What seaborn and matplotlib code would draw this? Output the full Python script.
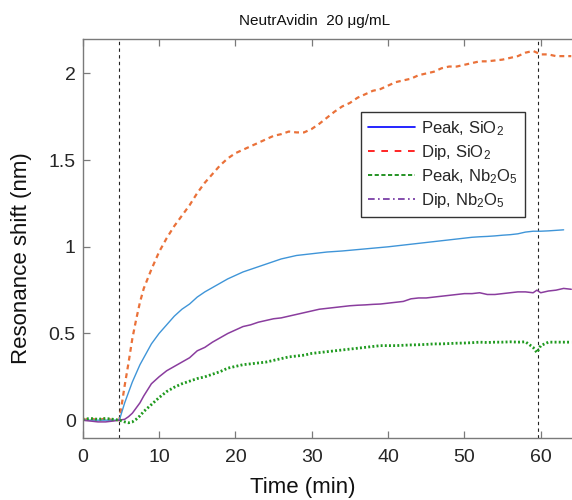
import numpy as np
import pandas as pd
import matplotlib
matplotlib.use("Agg")
import matplotlib.pyplot as plt
from matplotlib.lines import Line2D
import seaborn as sns

# ---------------- data ----------------
time_min = [0, 1, 2, 3, 4, 4.8, 5.5, 6, 6.5, 7, 7.5, 8,
            9, 10, 11, 12, 13, 14, 15, 16, 17, 18, 19, 20,
            21, 22, 23, 24, 25, 26, 27, 28, 29, 30,
            31, 32, 33, 34, 35, 36, 37, 38, 39, 40,
            41, 42, 43, 44, 45, 46, 47, 48, 49, 50,
            51, 52, 53, 54, 55, 56, 57, 58, 59, 59.5, 60, 61, 62, 63, 64]

peak_sio2 = [0.00, 0.00, 0.00, 0.00, 0.00, 0.00, 0.10, 0.16, 0.22, 0.27, 0.32, 0.36,
             0.44, 0.50, 0.55, 0.60, 0.64, 0.67, 0.71, 0.74, 0.765, 0.79, 0.815, 0.835,
             0.855, 0.87, 0.885, 0.90, 0.915, 0.93, 0.94, 0.95, 0.955, 0.96,
             0.965, 0.97, 0.973, 0.976, 0.98, 0.984, 0.988, 0.992, 0.996, 1.00,
             1.005, 1.01, 1.015, 1.02, 1.025, 1.03, 1.035, 1.04, 1.045, 1.05,
             1.055, 1.058, 1.06, 1.063, 1.067, 1.07, 1.075, 1.085, 1.09, 1.09, 1.09, 1.092, 1.095, 1.098, np.nan]

dip_sio2 = [0.00, 0.01, 0.00, 0.01, 0.00, 0.00, 0.20, 0.33, 0.47, 0.58, 0.68, 0.76,
            0.87, 0.97, 1.05, 1.12, 1.18, 1.24, 1.31, 1.37, 1.42, 1.47, 1.51, 1.54,
            1.56, 1.58, 1.60, 1.62, 1.64, 1.65, 1.665, 1.66, 1.66, 1.68,
            1.71, 1.745, 1.78, 1.81, 1.83, 1.86, 1.88, 1.90, 1.91, 1.93,
            1.95, 1.96, 1.97, 1.99, 2.00, 2.01, 2.03, 2.04, 2.04, 2.05,
            2.06, 2.07, 2.07, 2.075, 2.08, 2.09, 2.10, 2.12, 2.13, 2.12, 2.11, 2.11, 2.10, 2.10, 2.10]

peak_nb2o5 = [0.005, 0.01, 0.005, 0.01, 0.005, 0.00, -0.01, -0.015, -0.01, 0.005, 0.025, 0.05,
              0.09, 0.13, 0.165, 0.19, 0.21, 0.225, 0.24, 0.25, 0.265, 0.28, 0.30, 0.31,
              0.32, 0.325, 0.33, 0.335, 0.345, 0.355, 0.365, 0.37, 0.375, 0.385,
              0.39, 0.395, 0.40, 0.405, 0.41, 0.415, 0.42, 0.425, 0.43, 0.43,
              0.43, 0.432, 0.434, 0.435, 0.437, 0.44, 0.44, 0.442, 0.444, 0.445,
              0.447, 0.45, 0.448, 0.45, 0.45, 0.452, 0.45, 0.452, 0.42, 0.39, 0.43, 0.45, 0.45, 0.45, 0.45]

dip_nb2o5 = [0.00, -0.005, -0.01, -0.01, -0.005, 0.00, 0.005, 0.02, 0.04, 0.07, 0.10, 0.14,
             0.21, 0.25, 0.285, 0.31, 0.335, 0.36, 0.40, 0.42, 0.45, 0.475, 0.50, 0.52,
             0.54, 0.55, 0.565, 0.575, 0.585, 0.59, 0.60, 0.61, 0.62, 0.63,
             0.64, 0.645, 0.65, 0.655, 0.66, 0.663, 0.665, 0.668, 0.67, 0.675,
             0.68, 0.685, 0.70, 0.705, 0.705, 0.71, 0.715, 0.72, 0.725, 0.73,
             0.73, 0.735, 0.725, 0.725, 0.73, 0.735, 0.74, 0.74, 0.735, 0.75, 0.735, 0.745, 0.75, 0.76, 0.755]

injection_times = [4.8, 59.6]

legend_labels = ["Peak, SiO$_2$", "Dip, SiO$_2$", "Peak, Nb$_2$O$_5$", "Dip, Nb$_2$O$_5$"]
x_ticks = [0, 10, 20, 30, 40, 50, 60]
y_ticks = [0, 0.5, 1, 1.5, 2]
y_tick_labels = ["0", "0.5", "1", "1.5", "2"]

df = pd.DataFrame({
    "t": time_min,
    "peak_sio2": peak_sio2,
    "dip_sio2": dip_sio2,
    "peak_nb2o5": peak_nb2o5,
    "dip_nb2o5": dip_nb2o5,
})

# ---------------- style ----------------
sns.set_style("ticks")
plt.rcParams["font.family"] = ["Liberation Sans", "DejaVu Sans"]
plt.rcParams["mathtext.default"] = "regular"

fig = plt.figure(figsize=(5.72, 5.0), dpi=100)
ax = fig.add_axes([82.7 / 572, 62.5 / 500, 496.2 / 572, 398.7 / 500])

sns.lineplot(data=df, x="t", y="dip_sio2", ax=ax, color="#ea7139",
             linewidth=1.6, linestyle=(0, (2.2, 1.8)))
sns.lineplot(data=df, x="t", y="peak_sio2", ax=ax, color="#3f95d8", linewidth=1.0)
sns.lineplot(data=df, x="t", y="dip_nb2o5", ax=ax, color="#8a3d9e", linewidth=1.1)
sns.lineplot(data=df, x="t", y="peak_nb2o5", ax=ax, color="#1f9a1f",
             linewidth=2.0, linestyle=(0, (0.7, 0.8)))

for xv in injection_times:
    ax.axvline(xv, color="#222222", linewidth=0.8, linestyle=(0, (3, 3)), zorder=1)

ax.set_xlim(0, 65)
ax.set_ylim(-0.1, 2.2)
ax.set_xticks(x_ticks)
ax.set_xticklabels([str(v) for v in x_ticks])
ax.set_yticks(y_ticks)
ax.set_yticklabels(y_tick_labels)

for s in ["left", "bottom", "top", "right"]:
    ax.spines[s].set_color("#7a7a7a")
    ax.spines[s].set_linewidth(1.0)
ax.tick_params(direction="in", length=5, width=0.9, color="#7a7a7a",
               top=True, right=True, labelsize=14, labelcolor="#262626")
ax.tick_params(axis="x", pad=8)
ax.tick_params(axis="y", pad=5)

ax.set_xlabel("Time (min)", fontsize=16, color="#111111")
ax.set_ylabel("Resonance shift (nm)", fontsize=16, color="#111111")
ax.xaxis.set_label_coords(0.444, -0.100)
ax.yaxis.set_label_coords(-0.103, 0.45)
ax.set_title("")
fig.text(315 / 572, 1 - 21 / 500, "NeutrAvidin  20 μg/mL", ha="center", va="center",
         fontsize=11, color="#111111")

handles = [
    Line2D([0], [0], color="#0000ff", linewidth=1.2, linestyle="-"),
    Line2D([0], [0], color="#ff0000", linewidth=1.2, linestyle=(0, (4, 4))),
    Line2D([0], [0], color="#008000", linewidth=1.2, linestyle=(0, (2.5, 1.5))),
    Line2D([0], [0], color="#7030a0", linewidth=1.2, linestyle=(0, (4, 2, 1, 2))),
]
leg = ax.legend(handles, legend_labels, loc="upper left",
                bbox_to_anchor=(0.5603, 0.8172), borderaxespad=0,
                fontsize=12, frameon=True, fancybox=False, framealpha=1,
                handlelength=2.8, handletextpad=0.35, labelspacing=0.3,
                borderpad=0.45)
leg.get_frame().set_edgecolor("#333333")
leg.get_frame().set_linewidth(1.0)

fig.savefig("out.png", dpi=100)
